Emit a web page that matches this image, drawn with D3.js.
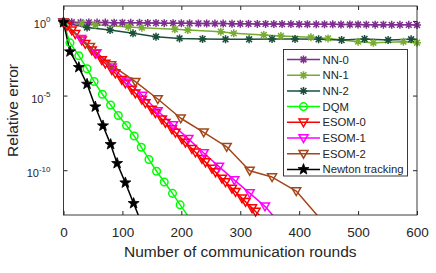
<!DOCTYPE html>
<html>
<meta charset="utf-8">
<style>
    body { margin: 0; background: #fff; }
    text { font-family: "Liberation Sans", Arial, sans-serif; fill: #262626; }
    .series { fill: none; stroke-width: 1.5px; stroke-linejoin: round; }
</style>
<body>
<script src="https://d3js.org/d3.v7.min.js"></script>
<script>

// values; errors are stored as log10 (the y axis is logarithmic)
var nn0Rounds = [0, 14, 29, 43, 57, 71, 86, 100, 114, 129, 143, 157, 171, 186, 200, 214, 229, 243, 257, 271, 286,
    300, 314, 329, 343, 357, 371, 386, 400, 414, 429, 443, 457, 471, 486, 500, 514, 529, 543, 557, 571, 586, 600];
var nn0Log = [-0.08, -0.09, -0.10, -0.10, -0.11, -0.11, -0.12, -0.12, -0.13, -0.13, -0.14, -0.14, -0.15, -0.15, -0.16,
    -0.16, -0.17, -0.17, -0.18, -0.18, -0.19, -0.19, -0.19, -0.20, -0.20, -0.21, -0.21, -0.21, -0.22, -0.22, -0.23,
    -0.23, -0.23, -0.24, -0.24, -0.24, -0.25, -0.25, -0.25, -0.26, -0.26, -0.26, -0.27];

var nn1Rounds = [0, 31, 54, 110, 133, 189, 211, 267, 289, 340, 369, 420, 449, 500, 526, 577, 600];
var nn1Log = [-0.1, -0.17, -0.26, -0.40, -0.45, -0.56, -0.61, -0.72, -0.83, -0.94, -1.01, -1.10, -1.17, -1.39, -1.46, -1.39, -1.46];

var nn2Rounds = [0, 40, 79, 118, 157, 197, 236, 275, 315, 354, 393, 433, 472, 511, 551, 590, 600];
var nn2Log = [-0.1, -0.44, -0.61, -0.83, -1.06, -1.17, -1.21, -1.23, -1.23, -1.21, -1.21, -1.23, -1.28, -1.21, -1.28, -1.23, -1.23];

var dqmRounds = [0, 11, 26, 40, 52, 66, 80, 93, 107, 120, 132, 145, 158, 171, 185, 198, 219];
var dqmLog = [-0.1, -1.47, -2.33, -3.2, -4.06, -4.91, -5.63, -6.33, -7.0, -7.71, -8.46, -9.28, -10.07, -10.79, -11.55, -12.32, -13.5];

var esom0Rounds = [0, 6, 14, 20, 31, 37, 48, 54, 65, 71, 82, 88, 99, 105, 116, 122, 133, 139, 150, 156, 167, 173,
    184, 190, 201, 207, 218, 224, 235, 241, 252, 258, 269, 275, 286, 292, 303, 309, 320, 326, 345];
var esom0Log = [-0.1, -0.32, -0.63, -0.87, -1.30, -1.53, -1.96, -2.19, -2.62, -2.85, -3.28, -3.51, -3.94, -4.17,
    -4.60, -4.84, -5.26, -5.50, -5.93, -6.16, -6.59, -6.82, -7.25, -7.48, -7.91, -8.14, -8.57, -8.80, -9.23, -9.46,
    -9.89, -10.13, -10.55, -10.79, -11.22, -11.45, -11.88, -12.11, -12.54, -12.77, -13.5];

var esom1Rounds = [0, 30, 56, 82, 108, 134, 160, 186, 212, 238, 264, 290, 316, 342, 368];
var esom1Log = [-0.1, -1.2, -2.15, -3.1, -4.05, -5.0, -6.03, -6.97, -7.9, -8.85, -9.76, -10.66, -11.53, -12.42, -13.6];

var esom2Rounds = [0, 45, 81, 122, 160, 199, 238, 277, 316, 354, 395, 450];
var esom2Log = [-0.1, -1.73, -2.95, -4.07, -5.23, -6.52, -7.46, -8.43, -10.03, -10.46, -11.4, -13.9];

var newtonRounds = [0, 11, 26, 40, 54, 67, 80, 91, 105, 119, 132];
var newtonLog = [-0.1, -2.06, -3.11, -4.23, -5.75, -7.02, -8.27, -9.54, -10.84, -12.22, -13.5];

var seriesNames = ["NN-0", "NN-1", "NN-2", "DQM", "ESOM-0", "ESOM-1", "ESOM-2", "Newton tracking"];
var xTickValues = [0, 100, 200, 300, 400, 500, 600];
var yTickExps = [0, -5, -10];

// build series
var series = [
    { name: seriesNames[0], r: nn0Rounds, v: nn0Log, color: "#7e2f8e", marker: "star" },
    { name: seriesNames[1], r: nn1Rounds, v: nn1Log, color: "#77ac30", marker: "star" },
    { name: seriesNames[2], r: nn2Rounds, v: nn2Log, color: "#1c4f3a", marker: "star", tailOnly: true },
    { name: seriesNames[3], r: dqmRounds, v: dqmLog, color: "#00ff00", marker: "circle" },
    { name: seriesNames[4], r: esom0Rounds, v: esom0Log, color: "#ff0000", marker: "tri" },
    { name: seriesNames[5], r: esom1Rounds, v: esom1Log, color: "#ff00ff", marker: "tri" },
    { name: seriesNames[6], r: esom2Rounds, v: esom2Log, color: "#a2471a", marker: "tri" },
    { name: seriesNames[7], r: newtonRounds, v: newtonLog, color: "#000000", marker: "pent" }
];
series.forEach(function (s) {
    s.points = s.r.map(function (r, i) { return { x: r, y: Math.pow(10, s.v[i]) }; });
});

var W = 436, H = 273;
var plot = { left: 63.5, right: 417, top: 6, bottom: 215 };

var x = d3.scaleLinear().domain([0, 600]).range([plot.left, plot.right]);
var y = d3.scaleLog().domain([1e-13, 1e1]).range([plot.bottom, plot.top]);

var svg = d3.select("body").append("svg")
    .attr("width", W)
    .attr("height", H);

svg.append("defs").append("clipPath").attr("id", "clip")
    .append("rect")
    .attr("x", plot.left).attr("y", plot.top)
    .attr("width", plot.right - plot.left).attr("height", plot.bottom - plot.top);

// marker shapes
function markerPath(type) {
    if (type === "star") {
        var s = 4, k = 2.9;
        return "M" + (-s) + ",0L" + s + ",0M0," + (-s) + "L0," + s +
            "M" + (-k) + "," + (-k) + "L" + k + "," + k + "M" + (-k) + "," + k + "L" + k + "," + (-k);
    }
    if (type === "tri") {
        return "M-4.5,-3.3L4.5,-3.3L0,4.5Z";
    }
    if (type === "pent") {
        var pts = [];
        for (var i = 0; i < 10; i++) {
            var rr = i % 2 === 0 ? 5.8 : 2.4;
            var a = -Math.PI / 2 + i * Math.PI / 5;
            pts.push([rr * Math.cos(a), rr * Math.sin(a)]);
        }
        return "M" + pts.map(function (p) { return p[0].toFixed(2) + "," + p[1].toFixed(2); }).join("L") + "Z";
    }
    return null;
}

function drawMarker(g, s, px, py) {
    if (s.marker === "circle") {
        g.append("circle").attr("cx", px).attr("cy", py).attr("r", 3.8)
            .attr("fill", "none").attr("stroke", s.color).attr("stroke-width", 1.5);
    } else {
        g.append("path").attr("d", markerPath(s.marker))
            .attr("transform", "translate(" + px + "," + py + ")")
            .attr("fill", s.marker === "pent" ? s.color : "none")
            .attr("stroke", s.color).attr("stroke-width", s.marker === "pent" ? 0.8 : 1.5)
            .attr("stroke-linejoin", "miter");
    }
}

var line = d3.line()
    .x(function (d) { return x(d.x); })
    .y(function (d) { return y(d.y); });

// axes ticks (inward, on all four sides)
svg.append("g")
    .attr("transform", "translate(0," + plot.bottom + ")")
    .call(d3.axisBottom(x).tickValues(xTickValues).tickSize(-4).tickSizeOuter(0).tickPadding(12))
    .call(function (g) {
        g.select(".domain").remove();
        g.selectAll("line").attr("stroke", "#262626");
        g.selectAll("text").attr("fill", "#262626").style("font-size", "13.5px")
            .style("font-family", "'Liberation Sans', Arial, sans-serif");
    });
svg.append("g")
    .attr("transform", "translate(0," + plot.top + ")")
    .call(d3.axisTop(x).tickValues(xTickValues).tickSize(-4).tickSizeOuter(0).tickFormat(""))
    .call(function (g) { g.select(".domain").remove(); g.selectAll("line").attr("stroke", "#262626"); });

var yTickVals = yTickExps.map(function (e) { return Math.pow(10, e); });
svg.append("g")
    .attr("transform", "translate(" + plot.left + ",0)")
    .call(d3.axisLeft(y).tickValues(yTickVals).tickSize(-4).tickSizeOuter(0).tickFormat(""))
    .call(function (g) { g.select(".domain").remove(); g.selectAll("line").attr("stroke", "#262626"); });
svg.append("g")
    .attr("transform", "translate(" + plot.right + ",0)")
    .call(d3.axisRight(y).tickValues(yTickVals).tickSize(-4).tickSizeOuter(0).tickFormat(""))
    .call(function (g) { g.select(".domain").remove(); g.selectAll("line").attr("stroke", "#262626"); });

// y tick labels as 10^e
yTickExps.forEach(function (e) {
    var t = svg.append("text")
        .attr("x", 50.5)
        .attr("y", y(Math.pow(10, e)) + 7)
        .attr("text-anchor", "end")
        .style("font-size", "11px");
    t.append("tspan").text("10");
    t.append("tspan").attr("dy", -5.5).style("font-size", "8px").text(String(e).replace("-", "-"));
});

// series
var lines = svg.append("g").attr("clip-path", "url(#clip)");
var marks = svg.append("g");
series.forEach(function (s) {
    lines.append("path")
        .datum(s.points)
        .attr("class", "series")
        .attr("stroke", s.color)
        .attr("d", line);
    s.points.forEach(function (p, i) {
        if (s.tailOnly && i === s.points.length - 1) return;
        if (p.y < 1e-13) return;
        drawMarker(marks, s, x(p.x), y(p.y));
    });
});

// frame
svg.append("rect")
    .attr("x", plot.left).attr("y", plot.top)
    .attr("width", plot.right - plot.left).attr("height", plot.bottom - plot.top)
    .attr("fill", "none").attr("stroke", "#262626").attr("stroke-width", 0.9);

// axis labels
svg.append("text")
    .attr("x", (plot.left + plot.right) / 2)
    .attr("y", 257)
    .attr("text-anchor", "middle")
    .style("font-size", "15.5px")
    .text("Number of communication rounds");

svg.append("text")
    .attr("transform", "translate(18," + ((plot.top + plot.bottom) / 2) + ") rotate(-90)")
    .attr("text-anchor", "middle")
    .style("font-size", "15.5px")
    .text("Relative error");

// legend
var legend = svg.append("g");
legend.append("rect")
    .attr("x", 283.5).attr("y", 49.5).attr("width", 124).attr("height", 126.5)
    .attr("fill", "#fff").attr("stroke", "#262626").attr("stroke-width", 0.9);
series.forEach(function (s, i) {
    var ly = 59.5 + i * 15.7;
    legend.append("line")
        .attr("x1", 287).attr("x2", 320).attr("y1", ly).attr("y2", ly)
        .attr("stroke", s.color).attr("stroke-width", 1.5);
    drawMarker(legend, s, 303.5, ly);
    legend.append("text")
        .attr("x", 322.5).attr("y", ly + 4)
        .style("font-size", "11.3px")
        .text(s.name);
});

</script>
</body>
</html>
